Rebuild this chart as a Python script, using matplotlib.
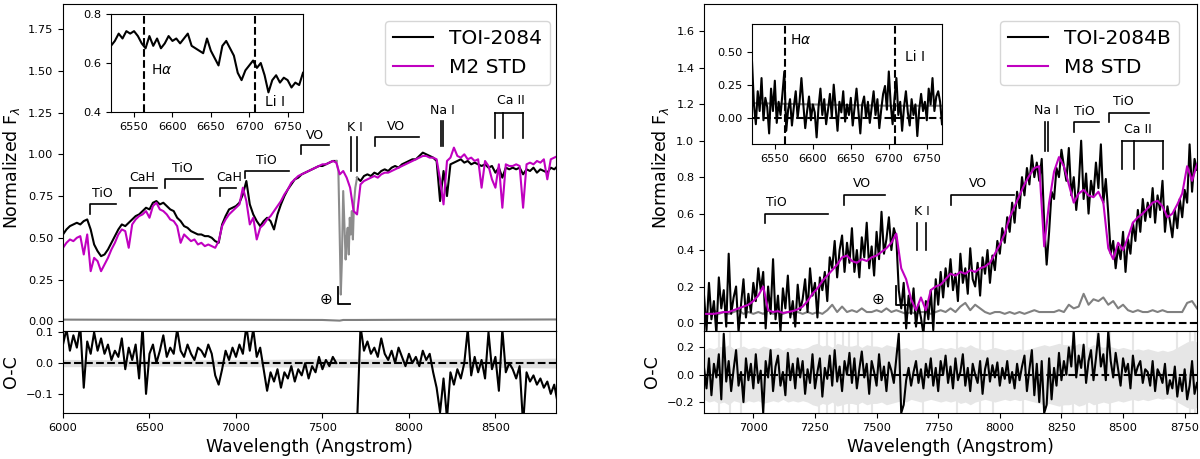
import numpy as np
import matplotlib
matplotlib.use("Agg")
import matplotlib.pyplot as plt

nan = np.nan

# ---------------- TOI-2084 (left panel) ----------------
wl_a = np.arange(6000, 8861, 20)
flux_toi = [
    0.52, 0.55, 0.57, 0.58, 0.59, 0.58, 0.60, 0.61, 0.55, 0.46,
    0.42, 0.39, 0.40, 0.43, 0.47, 0.51, 0.55, 0.58, 0.57, 0.59,
    0.61, 0.63, 0.64, 0.66, 0.68, 0.67, 0.71, 0.72, 0.70, 0.71,
    0.69, 0.67, 0.66, 0.62, 0.60, 0.57, 0.56, 0.54, 0.53, 0.52,
    0.52, 0.51, 0.51, 0.50, 0.48, 0.47, 0.58, 0.63, 0.67, 0.68,
    0.69, 0.71, 0.76, 0.84, 0.70, 0.64, 0.60, 0.57, 0.60, 0.62,
    0.60, 0.55, 0.64, 0.70, 0.75, 0.79, 0.82, 0.85, 0.86, 0.88,
    0.89, 0.90, 0.91, 0.92, 0.93, 0.93, 0.94, 0.95, 0.96, 0.96,
    nan, nan, nan, nan, nan, 0.86, 0.84, 0.87, 0.88, 0.87,
    0.89, 0.88, 0.90, 0.91, 0.90, 0.92, 0.93, 0.92, 0.94, 0.95,
    0.96, 0.97, 0.97, 0.99, 1.01, 1.00, 0.99, 0.98, 0.96, 0.72,
    0.90, 0.75, 0.94, 0.95, 0.96, 0.97, 0.95, 0.96, 0.94, 0.95,
    0.94, 0.93, 0.94, 0.92, 0.93, 0.89, 0.92, 0.86, 0.92, 0.91,
    0.92, 0.91, 0.92, 0.88, 0.91, 0.90, 0.92, 0.89, 0.91, 0.90,
    0.89, 0.92, 0.91, 0.93,
]
flux_m2 = [
    0.44, 0.47, 0.49, 0.48, 0.50, 0.51, 0.40, 0.52, 0.30, 0.38,
    0.36, 0.30, 0.34, 0.38, 0.43, 0.47, 0.52, 0.55, 0.54, 0.44,
    0.58, 0.61, 0.63, 0.64, 0.66, 0.62, 0.69, 0.71, 0.67, 0.66,
    0.64, 0.61, 0.60, 0.57, 0.47, 0.52, 0.50, 0.48, 0.49, 0.46,
    0.47, 0.45, 0.46, 0.45, 0.44, 0.48, 0.57, 0.61, 0.64, 0.66,
    0.68, 0.70, 0.80, 0.72, 0.58, 0.62, 0.49, 0.56, 0.58, 0.61,
    0.63, 0.66, 0.69, 0.72, 0.76, 0.79, 0.83, 0.85, 0.87, 0.88,
    0.89, 0.90, 0.91, 0.92, 0.93, 0.94, 0.94, 0.95, 0.96, 0.95,
    0.88, 0.90, 0.86, 0.80, 0.66, 0.64, 0.82, 0.84, 0.85, 0.86,
    0.87, 0.86, 0.88, 0.89, 0.89, 0.90, 0.91, 0.92, 0.93, 0.94,
    0.95, 0.96, 0.97, 0.98, 0.99, 0.99, 0.98, 0.98, 0.97, 0.85,
    0.70, 0.96, 0.98, 1.04, 0.99, 0.98, 1.00, 0.97, 0.98, 0.96,
    0.97, 0.80, 0.96, 0.93, 0.85, 0.80, 0.94, 0.68, 0.94, 0.93,
    0.93, 0.94, 0.93, 0.68, 0.94, 0.95, 0.94, 0.96, 0.95, 0.97,
    0.85, 0.97, 0.98, 0.99,
]
resid_a = [
    0.06, 0.11, 0.04, 0.09, 0.05, 0.12, -0.08, 0.07, 0.03, 0.10,
    0.04, 0.08, 0.03, 0.06, 0.01, 0.04, 0.02, 0.08, -0.02, 0.05,
    0.01, 0.06, -0.05, 0.12, -0.10, 0.03, 0.06, 0.00, 0.04, 0.09,
    0.02, 0.05, 0.03, 0.11, 0.04, 0.02, 0.06, 0.03, 0.01, 0.05,
    0.04, 0.02, 0.06, 0.03, -0.04, -0.07, -0.02, 0.04, 0.01, 0.05,
    0.02, 0.06, 0.03, 0.12, 0.04, 0.11, 0.02, 0.05, -0.02, -0.09,
    -0.03, -0.06, -0.02, -0.08, -0.03, -0.05, -0.01, -0.06, -0.02, -0.04,
    0.00, -0.05, -0.01, -0.03, 0.02, -0.02, 0.01, -0.01, 0.02, 0.00,
    nan, nan, nan, nan, nan, -0.20, 0.12, 0.04, 0.07, 0.03,
    0.05, 0.02, 0.08, 0.03, 0.01, 0.04, 0.00, 0.05, 0.02, -0.01,
    0.03, 0.00, 0.02, -0.01, 0.04, 0.01, 0.03, -0.03, -0.08, -0.16,
    -0.05, -0.18, -0.03, -0.07, -0.02, -0.05, 0.00, 0.11, -0.04, 0.02,
    -0.03, 0.01, -0.05, 0.10, -0.02, 0.02, -0.09, 0.11, -0.03, 0.00,
    -0.02, -0.05, -0.01, -0.20, -0.03, -0.06, -0.04, -0.07, -0.05, -0.08,
    -0.06, -0.10, -0.07, -0.13,
]
# telluric A band, drawn in grey
tell_wl = [7580, 7592, 7600, 7606, 7612, 7620, 7628, 7634, 7640, 7646,
           7652, 7658, 7664, 7670, 7676, 7682, 7690, 7700]
tell_flux = [0.96, 0.90, 0.50, 0.16, 0.35, 0.78, 0.55, 0.37, 0.50, 0.56,
             0.40, 0.62, 0.52, 0.66, 0.49, 0.70, 0.80, 0.86]
err_a_wl = [6000, 6500, 7000, 7500, 7600, 7620, 7700, 8000, 8500, 8860]
err_a = [0.010, 0.009, 0.009, 0.008, 0.004, 0.008, 0.008, 0.009, 0.010, 0.011]
band_a_wl = [6000, 6500, 7000, 7500, 8000, 8500, 8860]
band_a = [0.012, 0.010, 0.011, 0.014, 0.013, 0.014, 0.016]

inset_a_wl = np.arange(6520, 6771, 5)
inset_a_flux = [
    0.67, 0.69, 0.72, 0.70, 0.73, 0.72, 0.73, 0.71, 0.68, 0.66,
    0.71, 0.67, 0.70, 0.66, 0.68, 0.71, 0.69, 0.70, 0.68, 0.70,
    0.72, 0.67, 0.66, 0.65, 0.64, 0.70, 0.65, 0.62, 0.59, 0.67,
    0.69, 0.66, 0.63, 0.56, 0.53, 0.57, 0.59, 0.61, 0.58, 0.60,
    0.55, 0.48, 0.53, 0.55, 0.52, 0.54, 0.53, 0.50, 0.52, 0.51,
    0.56,
]

# ---------------- TOI-2084B (right panel) ----------------
wl_b = np.arange(6800, 8801, 10)
flux_toib = [
    0.15, -0.04, 0.22, 0.02, 0.12, -0.06, 0.25, 0.08, 0.18, -0.02,
    0.38, 0.05, 0.14, 0.20, -0.05, 0.10, 0.24, 0.03, 0.16, 0.06,
    0.22, 0.12, 0.30, 0.18, 0.28, -0.03, 0.20, 0.05, 0.35, 0.02,
    0.15, -0.05, 0.19, 0.08, 0.26, 0.03, 0.12, -0.02, 0.21, 0.07,
    0.13, 0.24, 0.06, 0.30, 0.15, 0.22, 0.03, 0.25, 0.18, 0.28,
    0.12, 0.36, 0.30, 0.45, 0.25, 0.40, 0.48, 0.28, 0.44, 0.33,
    0.52, 0.28, 0.40, 0.25, 0.47, 0.36, 0.55, 0.30, 0.42, 0.26,
    0.50, 0.35, 0.61, 0.38, 0.46, 0.58, 0.40, 0.52, 0.47, 0.18,
    0.08, 0.22, -0.03, 0.15, 0.05, 0.19, -0.02, 0.10, 0.03, -0.06,
    0.12, 0.02, 0.18, -0.04, 0.24, 0.10, 0.28, 0.14, 0.30, 0.20,
    0.35, 0.18, 0.27, 0.12, 0.38, 0.22, 0.30, 0.16, 0.41, 0.24,
    0.20, 0.33, 0.15, 0.36, 0.27, 0.40, 0.22, 0.37, 0.29, 0.45,
    0.38, 0.52, 0.44, 0.58, 0.50, 0.66, 0.55, 0.72, 0.63, 0.80,
    0.70, 0.85, 0.76, 0.92, 0.80, 0.88, 0.78, 0.90, 0.55, 0.32,
    0.50, 0.72, 0.68, 0.85, 0.80, 0.95, 0.86, 0.78, 0.96, 0.70,
    0.80, 0.62, 0.75, 1.00, 0.68, 0.82, 0.60, 0.78, 0.70, 0.88,
    0.74, 0.98, 0.66, 0.79, 0.60, 0.38, 0.45, 0.30, 0.42, 0.35,
    0.50, 0.28, 0.46, 0.38, 0.55, 0.45, 0.62, 0.50, 0.68, 0.56,
    0.66, 0.58, 0.74, 0.55, 0.70, 0.62, 0.78, 0.50, 0.64, 0.56,
    0.47, 0.62, 0.52, 0.68, 0.58, 0.73, 0.66, 0.98, 0.72, 0.90,
    0.84,
]
resid_b = [
    0.05, -0.10, 0.12, -0.15, 0.08, -0.02, 0.15, -0.18, 0.30, -0.05,
    0.10, -0.12, 0.04, 0.18, -0.08, 0.02, -0.20, 0.12, -0.04, 0.08,
    -0.10, 0.15, -0.06, 0.03, -0.28, 0.10, -0.02, 0.18, -0.12, 0.06,
    0.14, -0.08, 0.02, -0.15, 0.16, -0.04, 0.08, -0.10, 0.12, -0.02,
    0.10, -0.14, 0.04, -0.06, 0.15, -0.10, 0.02, 0.12, -0.16, 0.05,
    -0.03, 0.14, -0.08, 0.18, -0.05, 0.06, -0.12, 0.10, 0.00, 0.16,
    -0.06, 0.12, -0.10, 0.04, 0.17, -0.02, 0.08, -0.14, 0.10, 0.02,
    -0.08, 0.15, -0.04, 0.06, -0.12, 0.09, 0.03, -0.06, 0.12, 0.30,
    -0.28, -0.22, -0.04, 0.05, -0.08, 0.02, 0.10, -0.06, 0.04, -0.10,
    0.08, -0.02, 0.12, -0.08, 0.05, -0.12, 0.10, 0.00, 0.14, -0.06,
    0.06, -0.10, 0.12, -0.04, 0.02, 0.15, -0.08, 0.05, -0.12, 0.08,
    0.00, -0.06, 0.10, -0.14, 0.04, 0.12, -0.05, 0.07, -0.02, 0.09,
    -0.08, 0.05, -0.03, 0.10, -0.06, 0.02, -0.10, 0.08, -0.04, 0.06,
    0.14, -0.12, 0.04, 0.18, -0.15, 0.08, -0.20, 0.10, -0.28, -0.22,
    0.12, -0.18, 0.05, -0.08, 0.16, -0.04, 0.10, 0.00, 0.20, 0.06,
    0.32, -0.02, 0.14, 0.05, 0.22, -0.06, 0.10, 0.18, -0.04, 0.12,
    0.30, 0.06, 0.15, -0.04, 0.32, 0.10, -0.02, 0.16, 0.04, -0.08,
    0.12, 0.02, 0.08, -0.10, 0.14, 0.00, 0.06, 0.10, -0.06, 0.04,
    0.02, -0.08, 0.10, -0.12, 0.04, 0.00, -0.06, 0.08, -0.14, -0.04,
    -0.10, 0.06, -0.16, -0.02, -0.12, 0.04, -0.18, -0.08, 0.10, -0.14,
    -0.06,
]
wl_b20 = np.arange(6800, 8801, 20)
flux_m8 = [
    0.05, 0.05, 0.05, 0.055, 0.06, 0.06, 0.07, 0.08, 0.09, 0.10,
    0.12, 0.15, 0.20, 0.07, 0.06, 0.065, 0.055, 0.06, 0.065, 0.075,
    0.09, 0.12, 0.16, 0.19, 0.23, 0.26, 0.29, 0.32, 0.36, 0.37,
    0.34, 0.33, 0.35, 0.34, 0.36, 0.37, 0.39, 0.41, 0.44, 0.49,
    0.30, 0.24, 0.13, 0.07, 0.14, 0.07, 0.18, 0.20, 0.21, 0.24,
    0.27, 0.26, 0.28, 0.27, 0.29, 0.28, 0.30, 0.31, 0.33, 0.38,
    0.43, 0.49, 0.58, 0.64, 0.70, 0.76, 0.81, 0.85, 0.86, 0.42,
    0.66, 0.83, 0.91, 0.86, 0.76, 0.66, 0.71, 0.73, 0.70, 0.69,
    0.72, 0.66, 0.41, 0.35, 0.44, 0.40, 0.47, 0.55, 0.58, 0.60,
    0.63, 0.66, 0.67, 0.64, 0.58, 0.60, 0.65, 0.71, 0.86, 0.78,
    0.87,
]
err_b = [
    0.06, 0.05, 0.07, 0.05, 0.06, 0.05, 0.06, 0.07, 0.05, 0.06,
    0.05, 0.06, 0.05, 0.07, 0.05, 0.06, 0.05, 0.06, 0.05, 0.06,
    0.05, 0.06, 0.05, 0.06, 0.05, 0.07, 0.10, 0.06, 0.09, 0.06,
    0.07, 0.06, 0.08, 0.06, 0.06, 0.07, 0.06, 0.08, 0.06, 0.07,
    0.06, 0.05, 0.06, 0.05, 0.06, 0.06, 0.05, 0.06, 0.07, 0.06,
    0.08, 0.06, 0.09, 0.11, 0.07, 0.10, 0.08, 0.06, 0.05, 0.06,
    0.06, 0.05, 0.06, 0.05, 0.06, 0.05, 0.06, 0.07, 0.06, 0.06,
    0.06, 0.06, 0.07, 0.06, 0.10, 0.08, 0.09, 0.16, 0.10, 0.13,
    0.12, 0.14, 0.10, 0.12, 0.08, 0.10, 0.07, 0.06, 0.07, 0.06,
    0.06, 0.07, 0.06, 0.07, 0.06, 0.06, 0.06, 0.06, 0.11, 0.12,
    0.08,
]
band_b = [
    0.18, 0.20, 0.19, 0.21, 0.20, 0.22, 0.19, 0.20, 0.21, 0.19,
    0.20, 0.19, 0.21, 0.20, 0.19, 0.20, 0.18, 0.20, 0.19, 0.20,
    0.19, 0.20, 0.22, 0.23, 0.21, 0.22, 0.20, 0.23, 0.22, 0.21,
    0.21, 0.22, 0.20, 0.22, 0.21, 0.21, 0.20, 0.22, 0.21, 0.20,
    0.19, 0.20, 0.18, 0.19, 0.20, 0.19, 0.18, 0.19, 0.20, 0.19,
    0.20, 0.19, 0.21, 0.20, 0.22, 0.20, 0.19, 0.18, 0.19, 0.20,
    0.19, 0.18, 0.19, 0.18, 0.19, 0.18, 0.19, 0.20, 0.21, 0.22,
    0.21, 0.22, 0.23, 0.22, 0.22, 0.21, 0.23, 0.22, 0.20, 0.22,
    0.21, 0.20, 0.21, 0.20, 0.19, 0.20, 0.19, 0.18, 0.19, 0.18,
    0.19, 0.18, 0.17, 0.18, 0.17, 0.18, 0.20, 0.22, 0.24, 0.25,
    0.24,
]
# pixels with large uncertainty (thin full-height grey stripes)
spike_b_wl = [6860, 6905, 6950, 7265, 7300, 7330, 7365, 7390, 7425, 7480,
              7690, 7825, 7920, 7973, 8095, 8251, 8298, 8352, 8393, 8447,
              8541, 8718, 8772, 8790]

inset_b_wl = np.arange(6520, 6771, 2.5)
inset_b_flux = [
    0.42, 0.10, -0.05, 0.20, 0.05, 0.30, -0.02, 0.15, 0.08, -0.12,
    0.22, 0.05, 0.28, -0.04, 0.12, 0.02, 0.18, 0.35, -0.10, 0.06,
    0.14, -0.06, 0.08, 0.20, 0.00, 0.12, 0.30, 0.10, -0.08, 0.05,
    0.16, -0.02, 0.10, 0.04, -0.15, 0.08, 0.22, 0.02, 0.14, -0.05,
    0.06, 0.18, 0.00, 0.25, 0.08, -0.10, 0.12, 0.04, 0.20, -0.03,
    0.10, 0.02, 0.15, -0.06, 0.08, 0.22, 0.05, -0.12, 0.10, 0.16,
    0.00, 0.12, -0.04, 0.08, 0.20, 0.02, 0.14, -0.08, 0.06, 0.18,
    0.24, 0.06, 0.35, 0.10, -0.05, 0.15, 0.30, 0.02, 0.12, -0.10,
    0.08, 0.20, 0.04, -0.06, 0.14, 0.02, 0.10, -0.14, 0.06, 0.18,
    0.05, 0.12, -0.02, 0.22, 0.10, 0.30, 0.05, 0.16, 0.20, 0.12,
    -0.05,
]
inset_b_err_wl = [6520, 6600, 6700, 6770]
inset_b_err = [0.11, 0.10, 0.09, 0.09]

HALPHA, LII = 6563, 6708
MAG = "#c000c0"
TICK_FS = 8.2
ANN_FS = 9


def band(ax, x0, x1, y, drop, label, tx):
    # molecular band bracket: left tick + horizontal bar
    ax.plot([x0, x0, x1], [y - drop, y, y], color="k", lw=1.2)
    ax.text(tx, y + 0.062, label, ha="center", va="center", fontsize=ANN_FS)


def atomic(ax, xs, y0, y1, label, tx, ty, bar=False):
    for x in xs:
        ax.plot([x, x], [y0, y1], color="k", lw=1.2)
    if bar:
        ax.plot([xs[0], xs[-1]], [y1, y1], color="k", lw=1.2)
    ax.text(tx, ty, label, ha="center", va="center", fontsize=ANN_FS)


def earth(ax, xe, ye, xl, y0, y1, x1):
    ax.text(xe, ye, "\u2295", ha="center", va="center", fontsize=11)
    ax.plot([xl, xl, x1], [y1, y0, y0], color="k", lw=1.3)


fig = plt.figure(figsize=(12, 4.59), dpi=100)

# ===== left =====
axA = fig.add_axes([0.0525, 0.2789, 0.4108, 0.7124])
axAr = fig.add_axes([0.0525, 0.1002, 0.4108, 0.1787], sharex=axA)

axA.plot(err_a_wl, err_a, color="0.5", lw=1.5)
axA.plot(wl_a, flux_toi, color="k", lw=1.5, label="TOI-2084")
axA.plot(tell_wl, tell_flux, color="0.55", lw=1.5)
axA.plot(wl_a, flux_m2, color=MAG, lw=1.5, label="M2 STD")
axA.set_xlim(6000, 8850)
axA.set_ylim(-0.058, 1.9)
axA.set_yticks([0, 0.25, 0.5, 0.75, 1.0, 1.25, 1.5, 1.75])
axA.set_yticklabels(["0.00", "0.25", "0.50", "0.75", "1.00", "1.25", "1.50", "1.75"])
axA.tick_params(labelsize=TICK_FS, labelbottom=False, bottom=False)
axA.set_ylabel(r"Normalized F$_\lambda$", fontsize=12.5)
axA.legend(loc="upper right", bbox_to_anchor=(0.988, 0.948), borderaxespad=0,
           fontsize=14.5, handlelength=2.0)

band(axA, 6154, 6307, 0.705, 0.06, "TiO", 6225)
band(axA, 6387, 6541, 0.80, 0.05, "CaH", 6458)
band(axA, 6587, 6808, 0.85, 0.05, "TiO", 6688)
band(axA, 6905, 7003, 0.80, 0.05, "CaH", 6960)
band(axA, 7053, 7307, 0.90, 0.04, "TiO", 7176)
band(axA, 7376, 7538, 1.053, 0.053, "VO", 7457)
band(axA, 7806, 8058, 1.103, 0.053, "VO", 7925)
atomic(axA, [7665, 7699], 0.90, 1.105, "K I", 7686, 1.16)
atomic(axA, [8183, 8195], 1.05, 1.20, "Na I", 8195, 1.26)
atomic(axA, [8498, 8542, 8662], 1.10, 1.25, "Ca II", 8588, 1.32, bar=True)
earth(axA, 7520, 0.13, 7588, 0.105, 0.206, 7660)

axAr.fill_between(band_a_wl, [-b for b in band_a], band_a, color="0.88", lw=0)
axAr.axhline(0, color="k", ls="--", lw=1.5)
axAr.plot(wl_a, resid_a, color="k", lw=1.5)
axAr.set_ylim(-0.162, 0.104)
axAr.set_yticks([-0.1, 0.0, 0.1])
axAr.tick_params(labelsize=TICK_FS)
axAr.set_ylabel("O-C", fontsize=12.5)
axAr.set_xlabel("Wavelength (Angstrom)", fontsize=12.5)
axAr.set_xticks([6000, 6500, 7000, 7500, 8000, 8500])
fig.align_ylabels([axA, axAr])

insA = fig.add_axes([0.0925, 0.756, 0.16, 0.2135])
insA.plot(inset_a_wl, inset_a_flux, color="k", lw=1.5)
insA.axvline(HALPHA, color="k", ls="--", lw=1.5)
insA.axvline(LII, color="k", ls="--", lw=1.5)
insA.set_xlim(6520, 6770)
insA.set_ylim(0.4, 0.8)
insA.set_yticks([0.4, 0.6, 0.8])
insA.set_xticks([6550, 6600, 6650, 6700, 6750])
insA.tick_params(labelsize=TICK_FS)
insA.text(6572, 0.571, r"H$\alpha$", fontsize=10, va="center")
insA.text(6721, 0.44, "Li I", fontsize=10, va="center")

# ===== right =====
axB = fig.add_axes([0.5867, 0.2789, 0.4108, 0.7124])
axBr = fig.add_axes([0.5867, 0.1002, 0.4108, 0.1787], sharex=axB)

axB.plot(wl_b20, err_b, color="0.5", lw=1.5)
axB.plot(wl_b, flux_toib, color="k", lw=1.5, label="TOI-2084B")
axB.plot(wl_b20, flux_m8, color=MAG, lw=1.5, label="M8 STD")
axB.axhline(0, color="k", ls="--", lw=1.5)
axB.set_xlim(6800, 8800)
axB.set_ylim(-0.044, 1.75)
axB.set_yticks([0, 0.2, 0.4, 0.6, 0.8, 1.0, 1.2, 1.4, 1.6])
axB.tick_params(labelsize=TICK_FS, labelbottom=False, bottom=False)
axB.set_ylabel(r"Normalized F$_\lambda$", fontsize=12.5)
axB.legend(loc="upper right", bbox_to_anchor=(0.963, 0.949), borderaxespad=0,
           fontsize=14.5, handlelength=2.0)

band(axB, 7049, 7302, 0.60, 0.052, "TiO", 7093)
band(axB, 7368, 7533, 0.703, 0.055, "VO", 7439)
band(axB, 7800, 8056, 0.703, 0.055, "VO", 7910)
band(axB, 8301, 8403, 1.10, 0.054, "TiO", 8343)
band(axB, 8442, 8604, 1.152, 0.052, "TiO", 8503)
atomic(axB, [7665, 7700], 0.40, 0.551, "K I", 7683, 0.612)
atomic(axB, [8183, 8196], 0.945, 1.104, "Na I", 8190, 1.165)
atomic(axB, [8496, 8543, 8664], 0.844, 1.0, "Ca II", 8559, 1.064, bar=True)
earth(axB, 7505, 0.13, 7580, 0.10, 0.203, 7626)

axBr.fill_between(wl_b20, [-b for b in band_b], band_b, color="0.9", lw=0)
axBr.vlines(spike_b_wl, -0.28, 0.32, color="0.9", lw=1.5)
axBr.axhline(0, color="k", ls="--", lw=1.5)
axBr.plot(wl_b, resid_b, color="k", lw=1.5)
axBr.set_ylim(-0.28, 0.32)
axBr.set_yticks([-0.2, 0.0, 0.2])
axBr.tick_params(labelsize=TICK_FS)
axBr.set_ylabel("O-C", fontsize=12.5)
axBr.set_xlabel("Wavelength (Angstrom)", fontsize=12.5)
axBr.set_xticks([7000, 7250, 7500, 7750, 8000, 8250, 8500, 8750])

insB = fig.add_axes([0.6267, 0.6863, 0.1583, 0.2614])
insB.plot(inset_b_err_wl, inset_b_err, color="0.5", lw=1.5)
insB.plot(inset_b_wl, inset_b_flux, color="k", lw=1.5)
insB.axhline(0, color="k", ls="--", lw=1.5)
insB.axvline(HALPHA, color="k", ls="--", lw=1.5)
insB.axvline(LII, color="k", ls="--", lw=1.5)
insB.set_xlim(6520, 6770)
insB.set_ylim(-0.2, 0.71)
insB.set_yticks([0.0, 0.25, 0.5])
insB.set_yticklabels(["0.00", "0.25", "0.50"])
insB.set_xticks([6550, 6600, 6650, 6700, 6750])
insB.tick_params(labelsize=TICK_FS)
insB.text(6570, 0.588, r"H$\alpha$", fontsize=10, va="center")
insB.text(6721, 0.457, "Li I", fontsize=10, va="center")

fig.savefig("out.png", dpi=100)
